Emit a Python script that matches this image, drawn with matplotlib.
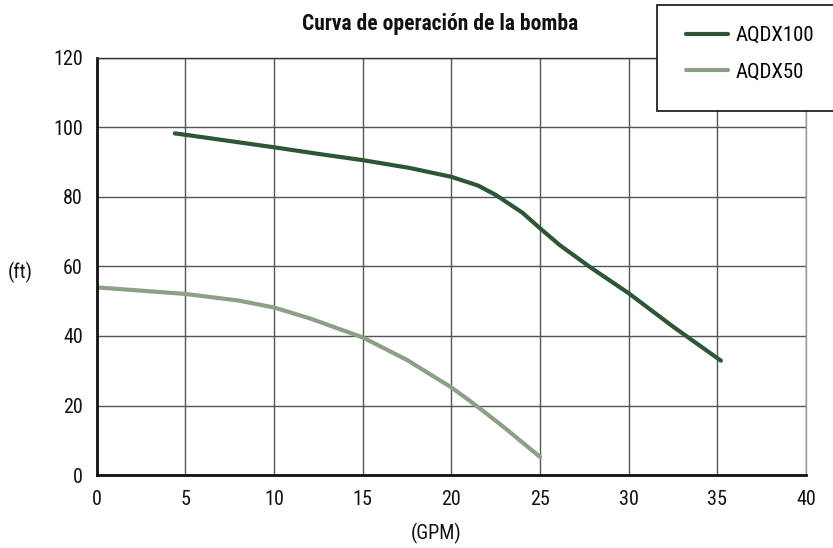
import matplotlib
matplotlib.use("Agg")
import matplotlib.pyplot as plt
from matplotlib.patches import Rectangle

# Pump curves
gpm_100 = [4.4, 5, 7.5, 10, 12.5, 15, 17.6, 20, 21.5, 22.5, 24, 25, 26.1, 27.8, 30, 32.5, 35.2]
ft_100 = [98.3, 97.9, 96.1, 94.3, 92.4, 90.6, 88.4, 85.8, 83.3, 80.6, 75.5, 71.0, 66.2, 59.9, 52.3, 42.7, 32.9]

gpm_50 = [0, 5, 8, 10, 12, 15, 17.5, 20, 21, 22, 23, 25]
ft_50 = [54.0, 52.1, 50.2, 48.2, 45.1, 39.6, 33.1, 25.2, 21.5, 17.6, 13.6, 5.2]

labels = ["AQDX100", "AQDX50"]
colors = ["#2d5637", "#8c9f87"]

x_ticks = [0, 5, 10, 15, 20, 25, 30, 35, 40]
y_ticks = [0, 20, 40, 60, 80, 100, 120]

plt.rcParams["font.family"] = ["Roboto Condensed", "DejaVu Sans"]
fs = 14.5

fig = plt.figure(figsize=(8.33, 5.48), dpi=100)
ax = fig.add_axes([0.1161, 0.1332, 0.8515, 0.761])

ax.plot(gpm_100, ft_100, color=colors[0], lw=3, solid_capstyle="round", label=labels[0])
ax.plot(gpm_50, ft_50, color=colors[1], lw=3, solid_capstyle="round", label=labels[1])

ax.set_xlim(0, 40)
ax.set_ylim(0, 120)
ax.set_xticks(x_ticks)
ax.set_yticks(y_ticks)
ax.tick_params(length=0, labelsize=fs, pad=10, labelcolor="#111111")
ax.tick_params(axis="x", pad=11)
ax.grid(True, color="#555555", lw=1)
ax.set_axisbelow(True)

for side in ["left", "bottom"]:
    ax.spines[side].set_linewidth(2)
    ax.spines[side].set_color("#111111")
ax.spines["top"].set_color("#333333")
ax.spines["top"].set_linewidth(1)
ax.spines["right"].set_color("#999999")
ax.spines["right"].set_linewidth(1)

fig.text(20 / 833, 1 - 272 / 548, "(ft)", fontsize=fs, ha="center", va="center", color="#111111")
fig.text(436 / 833, 1 - 533 / 548, "(GPM)", fontsize=fs, ha="center", va="center", color="#111111")
fig.text(440 / 833, 1 - 24 / 548, "Curva de operación de la bomba", fontsize=15.5,
         fontweight="heavy", ha="center", va="center", color="#111111")

# legend box, hanging off the right edge like the original
box = Rectangle((657 / 833, 1 - 111 / 548), 0.3, 106 / 548, transform=fig.transFigure,
                facecolor="white", edgecolor="#111111", lw=1.2, zorder=5)
fig.patches.append(box)

leg = fig.legend(loc="upper left", bbox_to_anchor=(686 / 833, 1 - 26 / 548),
                 frameon=False, fontsize=15, handlelength=2.0, handletextpad=0.4,
                 labelspacing=0.85, borderpad=0, borderaxespad=0)
leg.set_zorder(6)

fig.savefig("out.png", dpi=100)
